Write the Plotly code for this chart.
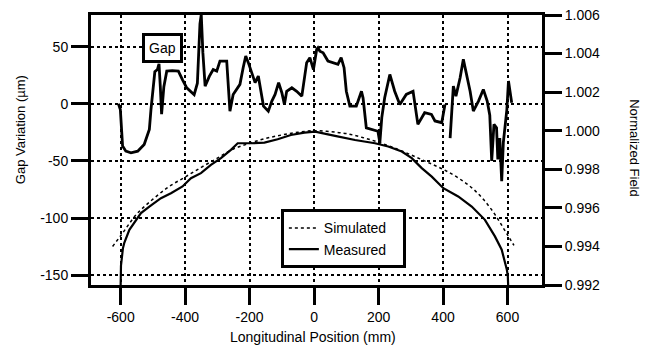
import plotly.graph_objects as go

# ---- data ----
gap_x_seg1 = [-607, -601, -594, -584, -568, -547, -527, -511, -506, -501, -494, -486, -481, -477, -473,
              -466, -457, -440, -421, -408, -395, -372, -362, -354, -350, -345, -338, -325, -313, -302,
              -292, -271, -266, -261, -251, -240, -230, -220, -212, -204, -193, -183, -173, -168, -157,
              -142, -131, -121, -110, -100, -92, -85, -69, -54, -38, -23, -13, -2, 8, 12, 18, 28, 43,
              74, 84, 93, 100, 111, 131, 147, 152, 162, 183, 198, 204, 210, 219, 235, 250, 266, 286,
              300, 307, 322, 343, 364, 375, 396, 406]
gap_y_seg1 = [0, -5, -37, -41.4, -42.8, -41.4, -35.5, -22.4, -5, 12, 28, 30, 35, 15, -9,
              15, 28.6, 29, 28.6, 21, 14, 8, 18, 70, 78, 45, 15.5, 24, 30, 28.6,
              37.4, 37.4, 17, -6.4, 8.2, 12.6, 17, 31.6, 41.8, 36, 27.2, 18.5, 24.3, 15.5, -2,
              -6.4, 2.4, 8.2, 18.5, 9.7, -0.5, 11, 14, 11, 6.7, 36, 40.4, 30, 47.6, 49, 46, 44.7, 37.4,
              34.5, 40.4, 31.6, 11, -2, -2, 11, 5, -21, -22.4, -24, -34, -12, 5.3, 25.7, 11, -0.5, 8.2,
              10, 11, -18, -7.8, -9.3, -15, -16.5, -0.5]
gap_x_seg2 = [422, 427, 432, 440, 448, 453, 463, 474, 484, 494, 510, 525, 537, 545, 551, 558,
              566, 570, 576, 582, 587, 598, 603, 613]
gap_y_seg2 = [-30, -0.5, 15.5, 6.7, 15.5, 22.8, 38.9, 24.3, 11, -6.4, 2.4, 12.6, 2.4, -10, -50, -18,
              -21, -48.7, -30, -67.7, -34, -5, 20, 1]

sim_x = [-625, -600, -550, -500, -450, -400, -350, -300, -250, -200, -150, -100, -50, 0,
         50, 100, 150, 200, 250, 300, 350, 400, 450, 500, 550, 600, 620]
sim_y = [0.99400, 0.99455, 0.99568, 0.99645, 0.99710, 0.99760, 0.99810, 0.99858, 0.99905, 0.99935,
         0.99960, 0.99978, 0.99992, 1.00000, 0.99995, 0.99985, 0.99965, 0.99940, 0.99910, 0.99875,
         0.99838, 0.99800, 0.99752, 0.99688, 0.99592, 0.99460, 0.99405]

meas_x = [-600, -599, -593, -589, -573, -553, -537, -511, -475, -444, -408, -382, -351, -320, -289,
          -258, -237, -196, -154, -113, -72, -30, 3, 65, 127, 189, 230, 272, 303, 334, 365, 401,
          447, 489, 530, 561, 582, 598, 601, 602]
meas_y = [0.99200, 0.99300, 0.99390, 0.99417, 0.99486, 0.99538, 0.99573, 0.99607, 0.99650, 0.99676,
          0.99711, 0.99754, 0.99780, 0.99823, 0.99858, 0.99901, 0.99935, 0.99935, 0.99938, 0.99956,
          0.99978, 0.99990, 0.99995, 0.99973, 0.99952, 0.99935, 0.99918, 0.99892, 0.99858, 0.99806,
          0.99762, 0.99702, 0.99659, 0.99607, 0.99538, 0.99452, 0.99383, 0.99279, 0.99245, 0.99200]

x_ticks = [-600, -400, -200, 0, 200, 400, 600]
x_tick_labels = ["-600", "-400", "-200", "0", "200", "400", "600"]
gap_ticks = [-150, -100, -50, 0, 50]
gap_tick_labels = ["-150", "-100", "-50", "0", "50"]
field_ticks = [0.992, 0.994, 0.996, 0.998, 1.000, 1.002, 1.004, 1.006]
field_tick_labels = ["0.992", "0.994", "0.996", "0.998", "1.000", "1.002", "1.004", "1.006"]

FONT = "Liberation Sans, Arial, sans-serif"
NB = "\u00a0"

gap_x = gap_x_seg1 + [None] + gap_x_seg2
gap_y = gap_y_seg1 + [None] + gap_y_seg2

fig = go.Figure()
fig.add_trace(go.Scatter(x=gap_x, y=gap_y, mode="lines", connectgaps=False,
                         line=dict(color="black", width=2.8), showlegend=False, name="Gap"))
fig.add_trace(go.Scatter(x=sim_x, y=sim_y, mode="lines", yaxis="y2", name="Simulated" + NB * 3,
                         line=dict(color="black", width=1.5, dash="dot", shape="spline")))
fig.add_trace(go.Scatter(x=meas_x, y=meas_y, mode="lines", yaxis="y2", name="Measured",
                         line=dict(color="black", width=2.2)))

axis_common = dict(showline=True, linecolor="black", linewidth=3, ticks="outside",
                   ticklen=17, tickwidth=3, tickcolor="black", zeroline=False,
                   automargin=False,
                   tickfont=dict(family=FONT, size=14, color="black"))

fig.update_layout(
    width=651, height=349,
    margin=dict(l=91, r=109, t=15, b=64, autoexpand=False),
    paper_bgcolor="white", plot_bgcolor="white",
    xaxis=dict(range=[-692, 707], tickvals=x_ticks, ticktext=x_tick_labels, mirror=True,
               showgrid=True, gridcolor="black", gridwidth=1.5, griddash="dot",
               **axis_common),
    yaxis=dict(range=[-158.5, 77.7], tickvals=gap_ticks, ticktext=gap_tick_labels,
               showgrid=True, gridcolor="black", gridwidth=1.5, griddash="dot",
               **axis_common),
    yaxis2=dict(range=[0.992, 1.006], tickvals=field_ticks, ticktext=field_tick_labels,
                overlaying="y", side="right", showgrid=False, **axis_common),
    legend=dict(x=0.421, y=0.28, xanchor="left", yanchor="top",
                bgcolor="white", bordercolor="black", borderwidth=3,
                font=dict(family=FONT, size=14, color="black"),
                tracegroupgap=0, itemwidth=30),
    annotations=[
        dict(text="Gap", x=-469, y=48.5, xref="x", yref="y", showarrow=False,
             xanchor="center", yanchor="middle",
             font=dict(family=FONT, size=14, color="black"),
             bordercolor="black", borderwidth=3, borderpad=4, bgcolor="white"),
        dict(text="Gap Variation (µm)", x=-0.157, y=0.574, xref="paper", yref="paper",
             xanchor="center", yanchor="middle",
             textangle=-90, showarrow=False, font=dict(family=FONT, size=13, color="black")),
        dict(text="Normalized Field", x=1.206, y=0.507, xref="paper", yref="paper",
             xanchor="center", yanchor="middle",
             textangle=90, showarrow=False, font=dict(family=FONT, size=13, color="black")),
        dict(text="Longitudinal Position (mm)", x=0.492, y=-0.193, xref="paper", yref="paper",
             xanchor="center", yanchor="middle",
             showarrow=False, font=dict(family=FONT, size=14, color="black")),
    ],
)

# remove the browser's default 8px body margin so the figure sits at the page origin
fig.write_html("out.html", config={"displayModeBar": False},
               post_script="document.body.style.margin='0';document.body.style.overflow='hidden';")
